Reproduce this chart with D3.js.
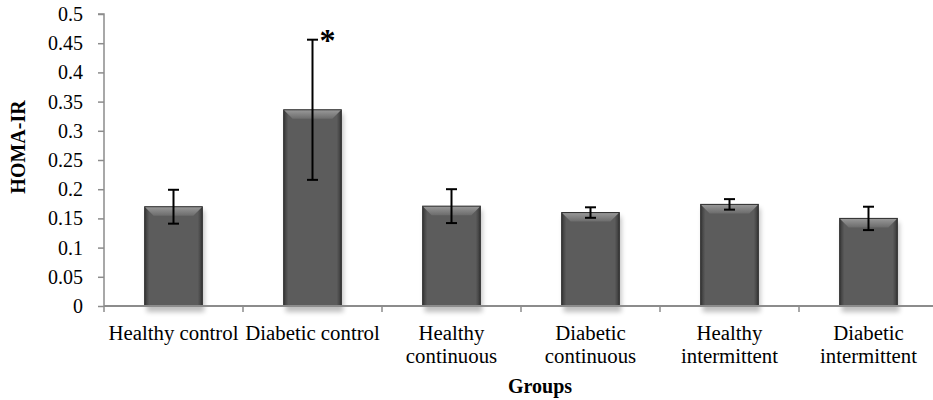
<!DOCTYPE html>
<html><head><meta charset="utf-8">
<script src="https://cdn.jsdelivr.net/npm/d3@7"></script>
<style>body{margin:0;background:#fff}svg{display:block}</style>
</head><body><svg id="c" width="933" height="400"></svg>
<script>
const categories = [["Healthy control"],["Diabetic control"],["Healthy","continuous"],["Diabetic","continuous"],["Healthy","intermittent"],["Diabetic","intermittent"]];
const means = [0.170, 0.336, 0.171, 0.160, 0.174, 0.150];
const errors = [0.029, 0.120, 0.029, 0.009, 0.009, 0.020];
const significant = [false, true, false, false, false, false];
const yTicks = [0,0.05,0.1,0.15,0.2,0.25,0.3,0.35,0.4,0.45,0.5];

const FONT = "'Liberation Serif', 'Times New Roman', Tinos, 'DejaVu Serif', serif";
const svg = d3.select("#c");
const x0 = 104, y0 = 306, yTop = 14;
const x = d3.scaleBand().domain(d3.range(categories.length)).range([x0, x0 + 6*139]).padding(0);
const y = d3.scaleLinear().domain([0,0.5]).range([y0, yTop]);
const bw = x.bandwidth()*0.415;

const defs = svg.append("defs");
const hg = defs.append("linearGradient").attr("id","body").attr("x1",0).attr("x2",1).attr("y1",0).attr("y2",0);
[[0,"#353535"],[0.04,"#4a4a4a"],[0.08,"#5c5c5c"],[0.92,"#5c5c5c"],[0.96,"#4a4a4a"],[1,"#353535"]].forEach(s=>hg.append("stop").attr("offset",s[0]).attr("stop-color",s[1]));
const vg = defs.append("linearGradient").attr("id","bev").attr("x1",0).attr("x2",0).attr("y1",0).attr("y2",1);
[[0,"#9a9a9a"],[1,"#6c6c6c"]].forEach(s=>vg.append("stop").attr("offset",s[0]).attr("stop-color",s[1]));
defs.append("filter").attr("id","blur").attr("x","-20%").attr("y","-20%").attr("width","140%").attr("height","140%")
  .append("feGaussianBlur").attr("stdDeviation",2.5);

// shadows
svg.append("g").selectAll("rect").data(means).join("rect")
  .attr("x",(d,i)=>x(i)+x.bandwidth()/2-bw/2+2).attr("y",d=>y(d)+4)
  .attr("width",bw).attr("height",d=>y0-y(d)+2)
  .attr("fill","#000").attr("opacity",0.25).attr("filter","url(#blur)");

const bars = svg.append("g").selectAll("g").data(means).join("g")
  .attr("transform",(d,i)=>`translate(${x(i)+x.bandwidth()/2-bw/2},0)`);
bars.append("rect").attr("x",0).attr("y",d=>y(d)).attr("width",bw).attr("height",d=>y0-y(d)).attr("fill","url(#body)");
const bv = 9;
bars.append("path").attr("d",d=>`M0,${y(d)}L${bw},${y(d)}L${bw-bv},${y(d)+bv}L${bv},${y(d)+bv}Z`).attr("fill","url(#bev)");
bars.append("rect").attr("x",0).attr("y",d=>y(d)).attr("width",bw).attr("height",d=>y0-y(d))
  .attr("fill","none").attr("stroke","#2e2e2e").attr("stroke-width",1);

// axes
const ya = svg.append("g").attr("transform",`translate(${x0},0)`)
  .call(d3.axisLeft(y).tickValues(yTicks).tickSize(6).tickPadding(15).tickFormat(d=>d3.format("")(+d.toFixed(2))));
ya.attr("font-family",FONT);
ya.select(".domain").attr("stroke","#8c8c8c").attr("stroke-width",1.5).attr("d",`M-6,${yTop}H0V${y0}`);
ya.selectAll(".tick line").attr("stroke","#8c8c8c").attr("stroke-width",1.5);
ya.selectAll(".tick text").attr("font-size",20).style("font-family",FONT).attr("fill","#000");

const xa = svg.append("g").attr("transform",`translate(0,${y0})`);
xa.append("line").attr("x1",x0).attr("x2",933).attr("y1",0).attr("y2",0).attr("stroke","#8c8c8c").attr("stroke-width",2);
xa.selectAll("line.t").data(d3.range(categories.length+1)).join("line").attr("class","t")
  .attr("x1",i=>x0+i*x.step()).attr("x2",i=>x0+i*x.step()).attr("y1",0).attr("y2",6)
  .attr("stroke","#8c8c8c").attr("stroke-width",1.5);
const lab = xa.selectAll("text.c").data(categories).join("text").attr("class","c")
  .attr("text-anchor","middle").attr("font-size",20.8).style("font-family",FONT)
  .attr("transform",(d,i)=>`translate(${x(i)+x.bandwidth()/2},34)`);
lab.selectAll("tspan").data(d=>d).join("tspan").attr("x",0).attr("dy",(d,j)=>j?23:0).text(d=>d);

// error bars
const eb = svg.append("g").attr("stroke","#000").attr("stroke-width",2);
means.forEach((m,i)=>{
  const cx = x(i)+x.bandwidth()/2;
  eb.append("line").attr("x1",cx).attr("x2",cx).attr("y1",y(m+errors[i])).attr("y2",y(m-errors[i]));
  eb.append("line").attr("x1",cx-5.5).attr("x2",cx+5.5).attr("y1",y(m+errors[i])).attr("y2",y(m+errors[i]));
  eb.append("line").attr("x1",cx-5.5).attr("x2",cx+5.5).attr("y1",y(m-errors[i])).attr("y2",y(m-errors[i]));
  if(significant[i]) svg.append("text").attr("x",cx+7).attr("y",y(m+errors[i])+11)
    .attr("font-size",32).attr("font-weight","bold").style("font-family",FONT).text("*");
});

svg.append("text").attr("x",540).attr("y",393).attr("text-anchor","middle").style("font-family",FONT)
  .attr("font-size",20).attr("font-weight","bold").text("Groups");
svg.append("text").attr("transform","translate(25,147) rotate(-90)").attr("text-anchor","middle").style("font-family",FONT)
  .attr("font-size",20).attr("font-weight","bold").text("HOMA-IR");
</script></body></html>
